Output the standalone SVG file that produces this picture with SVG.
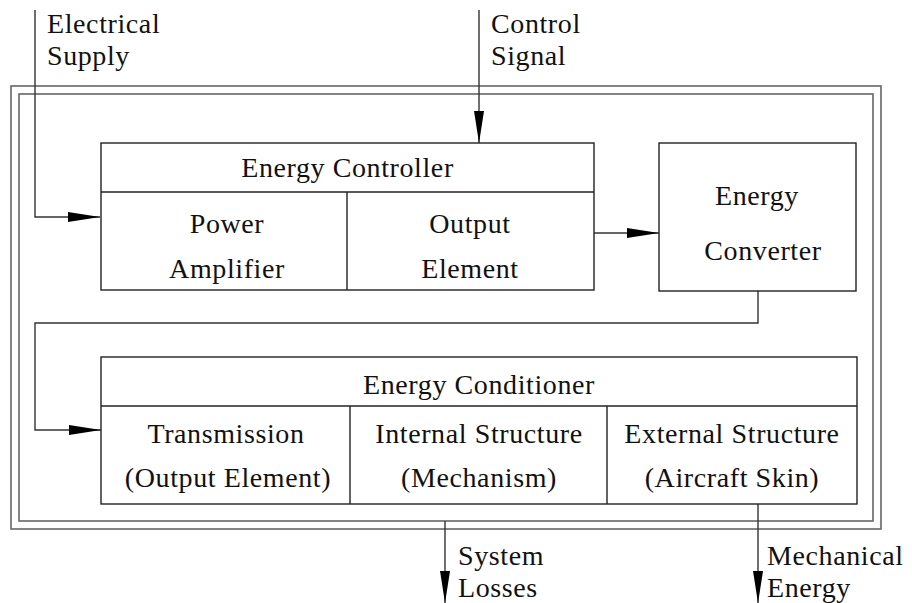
<svg xmlns="http://www.w3.org/2000/svg" width="912" height="603" viewBox="0 0 912 603">
<style>
.t{font-size:28px;fill:#111;letter-spacing:0.6px}
.c{text-anchor:middle}
.box{fill:none;stroke:#222;stroke-width:1.4}
.frame{fill:none;stroke:#666;stroke-width:1.6}
.wire{fill:none;stroke:#333;stroke-width:1.4}
</style>
<defs>
<marker id="ah" markerWidth="32" markerHeight="10" refX="32" refY="5" orient="auto" markerUnits="userSpaceOnUse">
<path d="M0,0 L32,5 L0,10 Z" fill="#000"/>
</marker>
</defs>
<rect width="912" height="603" fill="#fff"/>
<g id="frame">
<rect class="frame" x="11" y="86" width="870" height="443"/>
<rect class="frame" x="19" y="94" width="854" height="427"/>
</g>
<g id="connectors">
<path class="wire" d="M35,10 V217 H100" marker-end="url(#ah)"/>
<path class="wire" d="M479,10 V143" marker-end="url(#ah)"/>
<path class="wire" d="M594,233 H659" marker-end="url(#ah)"/>
<path class="wire" d="M758,291 V323 H35 V430 H101" marker-end="url(#ah)"/>
<path class="wire" d="M445,521 V603" marker-end="url(#ah)"/>
<path class="wire" d="M758,504 V603" marker-end="url(#ah)"/>
</g>
<g font-family="Liberation Serif, DejaVu Serif, serif">
<g id="labels" class="t">
<text x="47" y="33">Electrical</text>
<text x="47" y="65">Supply</text>
<text x="491" y="33">Control</text>
<text x="491" y="65">Signal</text>
<text x="458" y="565">System</text>
<text x="458" y="597">Losses</text>
<text x="767" y="565">Mechanical</text>
<text x="767" y="597">Energy</text>
</g>
<g id="energy-controller" class="t">
<rect class="box" x="101" y="143" width="493" height="147"/>
<line class="box" x1="101" y1="192" x2="594" y2="192"/>
<line class="box" x1="347" y1="192" x2="347" y2="290"/>
<text class="c" x="347.5" y="177">Energy Controller</text>
<text class="c" x="227" y="233">Power</text>
<text class="c" x="227" y="278">Amplifier</text>
<text class="c" x="470" y="233">Output</text>
<text class="c" x="470" y="278">Element</text>
</g>
<g id="energy-converter" class="t">
<rect class="box" x="659" y="143" width="197" height="148"/>
<text class="c" x="757" y="205">Energy</text>
<text class="c" x="763" y="260">Converter</text>
</g>
<g id="energy-conditioner" class="t">
<rect class="box" x="101" y="357" width="756" height="147"/>
<line class="box" x1="101" y1="406" x2="857" y2="406"/>
<line class="box" x1="350" y1="406" x2="350" y2="504"/>
<line class="box" x1="607" y1="406" x2="607" y2="504"/>
<text class="c" x="479" y="394">Energy Conditioner</text>
<text class="c" x="226" y="443">Transmission</text>
<text class="c" x="228" y="487">(Output Element)</text>
<text class="c" x="479" y="443">Internal Structure</text>
<text class="c" x="479" y="487">(Mechanism)</text>
<text class="c" x="732" y="443">External Structure</text>
<text class="c" x="732" y="487">(Aircraft Skin)</text>
</g>
</g>
</svg>
